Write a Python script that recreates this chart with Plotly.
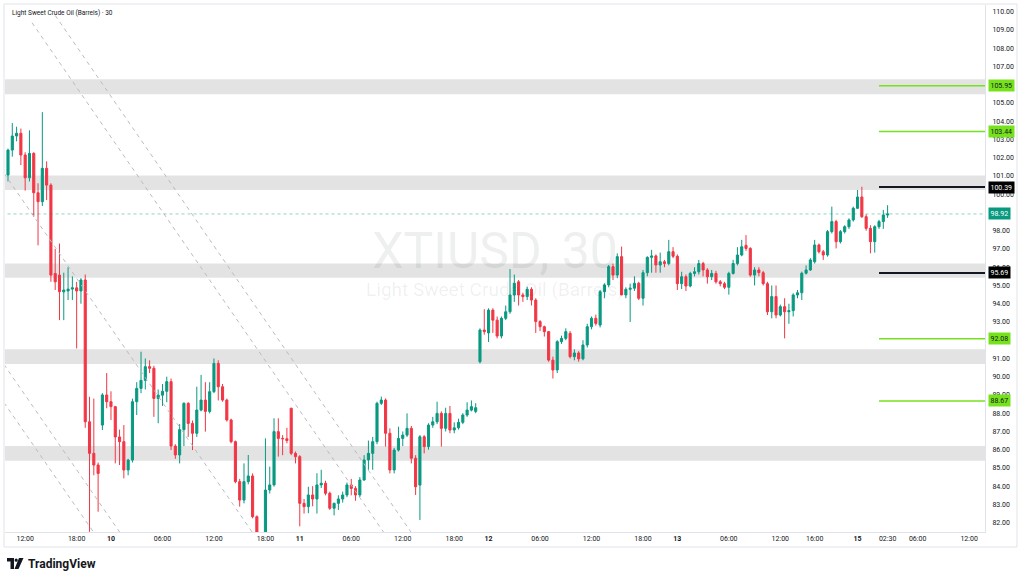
import plotly.graph_objects as go

# ---- 30-minute candles (bar index 0 = first visible bar) ----
opens = [
    101.05, 102.42, 103.19, 103.34, 102.15, 100.9, 102.24, 100.08, 99.59, 101.42,
    100.5, 95.66, 95.57, 94.65, 94.7, 94.8, 94.87, 94.7, 95.3, 87.53,
    85.8, 85.16, 87.35, 89.0, 88.63, 88.36, 86.7, 86.44, 84.89, 85.43,
    88.63, 89.36, 89.8, 90.55, 90.46, 88.81, 88.99, 89.2, 89.73, 86.2,
    85.71, 87.1, 88.54, 87.44, 86.9, 88.17, 88.72, 88.1, 89.18, 90.73,
    89.45, 88.72, 87.63, 86.44, 84.25, 83.24, 84.25, 84.56, 82.33, 81.3,
    81.0, 83.79, 84.07, 86.99, 86.62, 86.6, 88.27, 85.8, 85.62, 83.06,
    82.88, 83.52, 83.3, 84.07, 84.16, 83.61, 82.79, 83.06, 83.3, 83.52,
    84.07, 83.88, 83.52, 84.34, 85.44, 85.8, 86.44, 88.54, 88.72, 86.9,
    84.89, 85.98, 86.62, 86.8, 87.17, 85.53, 84.06, 86.71, 86.17, 87.35,
    87.53, 87.99, 87.17, 87.99, 87.08, 87.2, 87.5, 87.9, 88.17, 88.1,
    90.82, 92.56, 92.4, 93.65, 93.1, 92.23, 93.2, 93.56, 94.48, 95.2,
    94.48, 94.39, 94.79, 94.2, 93.02, 92.74, 92.47, 90.91, 90.37, 91.92,
    92.1, 92.38, 91.1, 91.3, 90.98, 91.74, 92.74, 93.2, 92.83, 94.66,
    95.03, 96.03, 95.57, 96.58, 94.48, 94.79, 94.85, 95.12, 94.3, 95.7,
    96.54, 96.62, 96.12, 96.3, 96.2, 96.85, 96.6, 95.1, 95.48, 94.97,
    95.66, 95.75, 96.2, 95.85, 95.48, 95.66, 95.2, 95.1, 94.9, 95.66,
    96.2, 96.67, 97.2, 97.03, 95.57, 95.85, 95.7, 95.1, 93.56, 94.39,
    93.38, 93.84, 93.56, 93.62, 94.48, 94.6, 95.67, 95.85, 96.3, 97.22,
    96.85, 96.67, 97.95, 98.5, 97.4, 97.95, 98.22, 98.59, 99.23, 99.85,
    98.77, 98.13, 97.4, 98.22, 98.5, 98.86,
]
highs = [
    102.5, 103.9, 103.7, 103.6, 102.3, 103.5, 102.3, 100.6, 104.5, 101.8,
    100.6, 97.0, 97.3, 95.7, 96.0, 95.5, 95.2, 95.4, 95.6, 88.9,
    88.8, 85.3, 89.1, 90.2, 89.2, 88.4, 87.1, 87.35, 85.5, 88.8,
    89.7, 91.37, 91.0, 90.9, 90.6, 89.3, 89.6, 90.0, 89.9, 86.3,
    87.4, 88.6, 88.6, 87.6, 89.45, 90.1, 89.7, 89.7, 91.0, 90.9,
    89.6, 88.8, 87.7, 86.5, 84.4, 85.25, 85.71, 84.7, 82.4, 81.45,
    86.62, 85.07, 87.72, 87.72, 86.8, 87.2, 88.3, 85.9, 85.7, 83.3,
    83.97, 84.0, 84.71, 84.9, 84.3, 83.7, 83.1, 83.5, 83.7, 84.2,
    84.4, 84.0, 84.5, 85.7, 86.5, 86.7, 88.63, 88.91, 88.81, 87.17,
    86.1, 87.26, 87.0, 87.99, 87.3, 85.7, 86.8, 86.8, 87.45, 87.8,
    88.63, 88.1, 88.3, 88.4, 87.5, 87.7, 88.0, 88.6, 88.7, 88.55,
    92.65, 93.7, 93.75, 93.75, 93.3, 93.3, 93.9, 95.9, 95.6, 95.3,
    94.6, 94.93, 94.9, 94.3, 93.1, 92.8, 92.5, 91.1, 92.0, 92.25,
    92.65, 92.5, 91.5, 91.4, 92.0, 92.9, 93.3, 93.4, 94.75, 95.12,
    96.12, 96.2, 96.76, 97.13, 94.9, 95.1, 95.5, 95.2, 95.85, 96.6,
    96.95, 96.7, 96.8, 96.4, 97.5, 97.1, 96.7, 95.75, 95.6, 95.75,
    96.0, 96.4, 96.3, 95.95, 95.85, 95.8, 95.3, 95.2, 95.75, 96.4,
    97.1, 97.5, 97.76, 97.1, 96.0, 96.0, 95.8, 95.2, 95.0, 95.0,
    93.95, 94.3, 94.0, 94.57, 94.75, 95.76, 96.1, 96.5, 97.5, 97.3,
    96.95, 98.04, 99.32, 98.6, 98.04, 98.3, 98.68, 99.32, 100.23, 100.41,
    98.9, 98.3, 98.3, 98.6, 99.14, 99.4,
]
lows = [
    100.7, 102.06, 102.9, 101.6, 100.2, 100.7, 98.77, 97.2, 99.35, 99.68,
    95.2, 94.75, 93.1, 93.1, 94.2, 94.2, 91.55, 94.0, 87.2, 81.5,
    84.6, 82.6, 87.08, 88.27, 87.63, 85.25, 85.16, 84.43, 84.6, 85.3,
    87.9, 89.1, 89.3, 90.2, 87.8, 87.45, 88.4, 88.6, 85.98, 85.5,
    85.25, 86.2, 86.7, 85.98, 86.7, 88.1, 86.99, 87.99, 89.1, 88.7,
    88.63, 87.54, 86.35, 84.16, 82.88, 83.06, 84.1, 82.24, 81.2, 80.8,
    80.9, 83.6, 83.98, 85.62, 85.7, 86.35, 85.7, 85.25, 81.8, 82.5,
    82.52, 82.9, 82.5, 83.9, 83.5, 82.7, 82.4, 82.7, 83.1, 83.4,
    83.5, 83.2, 83.4, 84.3, 84.9, 84.9, 86.3, 88.45, 86.17, 84.7,
    84.7, 85.9, 86.2, 86.7, 85.25, 83.52, 82.15, 85.8, 86.0, 87.2,
    87.4, 86.17, 87.0, 86.9, 86.9, 87.1, 87.4, 87.8, 88.1, 88.0,
    90.73, 92.3, 91.9, 92.4, 92.1, 92.1, 93.1, 93.45, 94.1, 93.9,
    94.1, 94.2, 93.9, 92.4, 92.5, 92.2, 90.82, 89.9, 90.2, 91.8,
    92.0, 91.0, 90.9, 90.82, 90.9, 91.6, 92.6, 92.8, 92.7, 94.3,
    94.9, 95.3, 95.4, 94.48, 94.3, 93.0, 94.7, 94.2, 93.9, 95.5,
    95.7, 95.7, 95.7, 96.0, 96.1, 96.5, 94.75, 94.8, 94.7, 94.9,
    95.5, 95.6, 95.5, 95.1, 95.3, 95.1, 94.95, 94.8, 94.5, 95.6,
    96.1, 96.6, 96.9, 95.48, 95.0, 95.5, 95.0, 93.38, 93.2, 93.2,
    93.3, 92.1, 92.9, 93.3, 94.3, 94.2, 95.6, 95.8, 96.2, 96.75,
    96.4, 96.58, 97.85, 97.03, 97.3, 97.85, 98.1, 98.5, 99.2, 98.7,
    98.0, 96.76, 96.8, 98.1, 98.1, 98.7,
]
closes = [
    102.42, 103.19, 103.34, 102.15, 100.9, 102.24, 100.08, 99.59, 101.42, 100.5,
    95.57, 95.2, 94.66, 94.75, 94.8, 94.87, 94.7, 95.3, 87.53, 85.8,
    85.16, 84.7, 89.0, 88.63, 88.36, 86.7, 86.44, 84.89, 85.43, 88.63,
    89.36, 89.8, 90.55, 90.46, 88.81, 88.99, 89.2, 89.73, 86.2, 85.71,
    87.1, 88.54, 87.44, 86.9, 88.17, 88.72, 88.1, 89.18, 90.73, 89.45,
    88.72, 87.63, 86.44, 84.25, 83.24, 84.25, 84.56, 82.33, 81.3, 81.0,
    83.79, 84.07, 86.99, 86.62, 86.6, 86.5, 85.8, 85.62, 83.06, 82.88,
    83.52, 83.3, 84.07, 84.16, 83.61, 82.79, 83.06, 83.3, 83.52, 84.07,
    83.88, 83.52, 84.34, 85.44, 85.8, 86.44, 88.54, 88.72, 86.9, 84.89,
    85.98, 86.62, 86.8, 87.17, 85.53, 83.97, 86.71, 86.17, 87.35, 87.53,
    87.99, 87.17, 87.99, 87.08, 87.2, 87.5, 87.9, 88.17, 88.36, 88.3,
    92.56, 92.47, 93.65, 93.1, 92.23, 93.2, 93.56, 94.48, 95.12, 94.48,
    94.39, 94.79, 94.2, 93.02, 92.74, 92.47, 90.91, 90.37, 91.92, 92.1,
    92.47, 91.1, 91.3, 90.98, 91.74, 92.74, 93.2, 92.92, 94.66, 95.03,
    96.03, 95.57, 96.58, 94.48, 94.79, 94.85, 95.12, 94.3, 95.7, 96.54,
    96.62, 96.12, 96.3, 96.2, 96.85, 96.6, 95.1, 95.48, 94.97, 95.66,
    95.75, 96.2, 95.85, 95.48, 95.66, 95.2, 95.1, 94.9, 95.66, 96.2,
    96.67, 97.12, 97.03, 95.57, 95.85, 95.7, 95.1, 93.56, 94.39, 93.38,
    93.84, 93.56, 93.62, 94.48, 94.6, 95.67, 95.85, 96.4, 97.22, 96.85,
    96.67, 97.95, 98.5, 97.4, 97.95, 98.22, 98.59, 99.23, 99.85, 98.77,
    98.13, 97.4, 98.22, 98.5, 98.86, 98.92,
]
bars = list(range(len(closes)))

# time scale labels (bar index -> label)
tick_bars = [4, 16, 24, 36, 48, 60, 68, 80, 92, 104, 112, 124, 136, 148,
             156, 168, 180, 188, 198, 205, 212, 224]
tick_text = ["12:00", "18:00", "<b>10</b>", "06:00", "12:00", "18:00", "<b>11</b>",
             "06:00", "12:00", "18:00", "<b>12</b>", "06:00", "12:00", "18:00",
             "<b>13</b>", "06:00", "12:00", "16:00", "<b>15</b>", "02:30",
             "06:00", "12:00"]

# supply / demand zones (price bands)
zone_lo = [105.48, 100.23, 95.42, 90.70, 85.40]
zone_hi = [106.30, 101.02, 96.21, 91.50, 86.20]

# horizontal rays drawn from bar 203
ray_start = 203
ray_levels = [105.95, 103.44, 100.39, 95.69, 92.08, 88.67]
ray_kind = ["green", "green", "black", "black", "green", "green"]

# descending dashed channel lines: (bar0, price0, bar1, price1)
chan_b0 = [5.6, 11.0, -2.0, -2.0, -2.0]
chan_p0 = [109.4, 109.8, 101.51, 91.03, 88.94]
chan_b1 = [88.8, 95.2, 58.2, 27.3, 21.2]
chan_p1 = [81.05, 81.05, 81.05, 81.05, 81.05]

last_price = 98.92

UP, DOWN = "#089981", "#F23645"
RAY_GREEN, RAY_BLACK = "#76e21c", "#131722"
X_RANGE = [-0.7, 227.7]
Y_RANGE = [81.49, 110.37]

W, H = 1024, 580
ML, MR, MT, MB = 5, 39, 5, 48


def px2x(px):
    return (px - ML) / (W - ML - MR)


def py2y(py):
    return 1 - (py - MT) / (H - MT - MB)


fig = go.Figure()

# watermark behind the candles
mid_bar = (X_RANGE[0] + X_RANGE[1]) / 2
fig.add_trace(go.Scatter(
    x=[mid_bar, mid_bar], y=[96.67, 94.69], mode="text",
    text=["XTIUSD, 30", "Light Sweet Crude Oil (Barrels)"],
    textfont=dict(family="Roboto", size=[50, 19], color="rgba(19,23,34,0.07)"),
    hoverinfo="skip", showlegend=False,
))

for b0, p0, b1, p1 in zip(chan_b0, chan_p0, chan_b1, chan_p1):
    fig.add_trace(go.Scatter(
        x=[b0, b1], y=[p0, p1], mode="lines",
        line=dict(color="#b9bcc4", width=1, dash="4px,4px"),
        hoverinfo="skip", showlegend=False,
    ))

fig.add_trace(go.Scatter(
    x=[X_RANGE[0] - 5, X_RANGE[1] + 5], y=[last_price, last_price], mode="lines",
    line=dict(color="rgba(8,153,129,0.45)", width=1, dash="dot"),
    hoverinfo="skip", showlegend=False,
))

fig.add_trace(go.Candlestick(
    x=bars, open=opens, high=highs, low=lows, close=closes,
    increasing=dict(line=dict(color=UP, width=1), fillcolor=UP),
    decreasing=dict(line=dict(color=DOWN, width=1), fillcolor=DOWN),
    whiskerwidth=0, showlegend=False, hoverinfo="skip",
))

for lvl, kind in zip(ray_levels, ray_kind):
    col = RAY_GREEN if kind == "green" else RAY_BLACK
    fig.add_trace(go.Scatter(
        x=[ray_start, X_RANGE[1] + 5], y=[lvl, lvl], mode="lines",
        line=dict(color=col, width=1.5 if kind == "green" else 2),
        hoverinfo="skip", showlegend=False,
    ))

shapes = []
for lo, hi in zip(zone_lo, zone_hi):
    shapes.append(dict(type="rect", xref="paper", yref="y", x0=0, x1=1, y0=lo, y1=hi,
                       fillcolor="#e3e3e3", line=dict(width=0), layer="below"))
# outer pane border
shapes.append(dict(type="rect", xref="paper", yref="paper",
                   x0=px2x(4), x1=px2x(1017), y0=py2y(547), y1=py2y(4),
                   line=dict(color="#e0e3eb", width=1), fillcolor="rgba(0,0,0,0)"))
# TradingView logo mark
logo = "M {} {} H {} V {} H {} V {} H {} Z".format(
    px2x(7), py2y(558), px2x(14), py2y(569), px2x(10.5), py2y(561.5), px2x(7))
shapes.append(dict(type="path", xref="paper", yref="paper", path=logo,
                   fillcolor="#131722", line=dict(width=0)))
shapes.append(dict(type="circle", xref="paper", yref="paper",
                   x0=px2x(14.6), x1=px2x(17.8), y0=py2y(561.8), y1=py2y(558.6),
                   fillcolor="#131722", line=dict(width=0)))
slash = "M {} {} L {} {} L {} {} L {} {} Z".format(
    px2x(19), py2y(558), px2x(23.5), py2y(558), px2x(18.5), py2y(569), px2x(14.5), py2y(569))
shapes.append(dict(type="path", xref="paper", yref="paper", path=slash,
                   fillcolor="#131722", line=dict(width=0)))

annotations = []
for lvl, kind in zip(ray_levels, ray_kind):
    annotations.append(dict(
        xref="paper", yref="y", x=1, y=lvl, xanchor="left", xshift=3,
        text="{:.2f}".format(lvl), showarrow=False,
        font=dict(family="Roboto", size=7, color="#131722" if kind == "green" else "white"),
        bgcolor=RAY_GREEN if kind == "green" else "#000000", borderpad=1.5,
    ))
annotations.append(dict(
    xref="paper", yref="y", x=1, y=last_price, xanchor="left", xshift=3,
    text="{:.2f}".format(last_price), showarrow=False,
    font=dict(family="Roboto", size=7, color="white"), bgcolor=UP, borderpad=1.5,
))
annotations.append(dict(
    xref="paper", yref="paper", x=px2x(10), y=py2y(13), xanchor="left", yanchor="middle",
    text="Light Sweet Crude Oil (Barrels) · 30", showarrow=False,
    font=dict(family="Roboto", size=6.5, color="#131722"),
))
annotations.append(dict(
    xref="paper", yref="paper", x=px2x(26), y=py2y(564), xanchor="left", yanchor="middle",
    text="<b>TradingView</b>", showarrow=False,
    font=dict(family="Roboto", size=12, color="#131722"),
))

fig.update_layout(
    width=W, height=H,
    margin=dict(l=ML, r=MR, t=MT, b=MB),
    paper_bgcolor="white", plot_bgcolor="white",
    shapes=shapes, annotations=annotations,
    boxgap=0.3,
    xaxis=dict(range=X_RANGE, tickmode="array", tickvals=tick_bars, ticktext=tick_text,
               showgrid=False, zeroline=False, rangeslider=dict(visible=False),
               showline=True, linecolor="#e0e3eb", ticks="",
               tickfont=dict(family="Roboto", size=7, color="#131722")),
    yaxis=dict(range=Y_RANGE, side="right", tickmode="linear", tick0=82, dtick=1,
               tickformat=".2f", showgrid=False, zeroline=False,
               showline=True, linecolor="#e0e3eb", ticks="", ticklabelstandoff=5,
               tickfont=dict(family="Roboto", size=7, color="#131722")),
    showlegend=False,
)

# the page body has a default 8px margin; drop it so the figure fills the window
fig.write_html("out.html", config={"displayModeBar": False},
               post_script="document.body.style.margin='0px';")
